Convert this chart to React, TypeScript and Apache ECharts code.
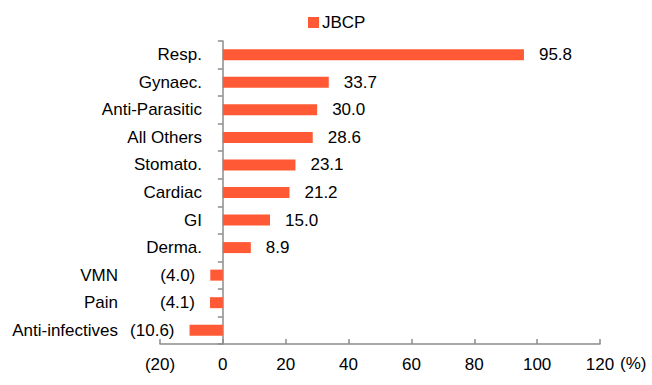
import React, { useEffect, useRef } from "react";
import * as echarts from "echarts";

const categories = ["Resp.", "Gynaec.", "Anti-Parasitic", "All Others", "Stomato.", "Cardiac", "GI", "Derma.", "VMN", "Pain", "Anti-infectives"];
const values = [95.8, 33.7, 30.0, 28.6, 23.1, 21.2, 15.0, 8.9, -4.0, -4.1, -10.6];
const seriesName = "JBCP";
const xMin = -20;
const xMax = 120;
const xStep = 20;
const unitLabel = "(%)";

const FONT = "'Liberation Sans', Arial, sans-serif";
const BAR = "#FF5A35";
const AXIS = "#8C8C8C";

const fmt = (v: number) => (v < 0 ? `(${Math.abs(v).toFixed(1)})` : v.toFixed(1));

export default function App() {
  const ref = useRef<HTMLDivElement>(null);
  useEffect(() => {
    if (!ref.current) return;
    const chart = echarts.init(ref.current, null, { renderer: "svg" });
    const negSet = new Set(categories.filter((_, i) => values[i] < 0));
    chart.setOption({
      animation: false,
      legend: {
        top: 9,
        left: 303,
        itemWidth: 11,
        itemHeight: 11,
        itemGap: 6,
        icon: "rect",
        textStyle: { fontFamily: FONT, fontSize: 17, color: "#000", padding: [0, 0, 0, -2] },
        data: [seriesName],
      },
      grid: { left: 160, right: 52, top: 41, bottom: 41, containLabel: false, outerBoundsMode: "none" },
      xAxis: {
        type: "value",
        min: xMin,
        max: xMax,
        interval: xStep,
        axisLine: { show: true, lineStyle: { color: AXIS, width: 1.5 } },
        axisTick: { show: true, inside: true, length: 5, lineStyle: { color: AXIS, width: 1.5 } },
        splitLine: { show: false },
        axisLabel: {
          margin: 12,
          fontFamily: FONT,
          fontSize: 17,
          color: "#000",
          formatter: (v: number) => (v < 0 ? `(${Math.abs(v)})` : `${v}`),
        },
      },
      yAxis: {
        type: "category",
        data: categories,
        inverse: true,
        axisLine: { show: true, onZero: true, lineStyle: { color: AXIS, width: 1.5 } },
        axisTick: { show: true, length: 5, lineStyle: { color: AXIS, width: 1.5 } },
        axisLabel: {
          margin: -42,
          fontFamily: FONT,
          fontSize: 17,
          color: "#000",
          formatter: (v: string) => (negSet.has(v) ? `{n|${v}}` : `{p|${v}}`),
          rich: {
            p: { fontFamily: FONT, fontSize: 17, color: "#000" },
            n: { fontFamily: FONT, fontSize: 17, color: "#000", padding: [0, 84, 0, 0] },
          },
        },
      },
      graphic: [
        {
          type: "text",
          left: 620,
          top: 355,
          style: { text: unitLabel, fontFamily: FONT, fontSize: 17, fill: "#000" },
        },
      ],
      series: [
        {
          name: seriesName,
          type: "bar",
          barWidth: 11,
          itemStyle: { color: BAR },
          data: values.map((v) => ({
            value: v,
            label: {
              show: true,
              position: v < 0 ? "left" : "right",
              distance: 15,
              formatter: () => fmt(v),
              fontFamily: FONT,
              fontSize: 17,
              color: "#000",
            },
          })),
        },
      ],
    });
    return () => chart.dispose();
  }, []);
  return <div ref={ref} style={{ width: 652, height: 385, position: "absolute", left: 0, top: 0 }} />;
}
